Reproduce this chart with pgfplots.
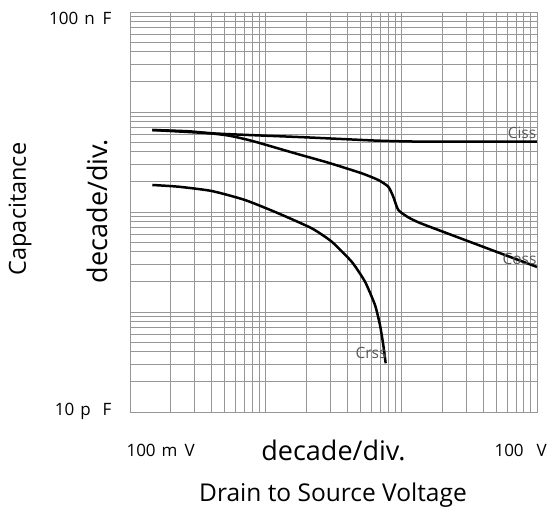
\documentclass[border=0pt]{standalone}
\usepackage{fontspec}
\setmainfont{Open Sans}
\usepackage{pgfplots}
\pgfplotsset{compat=1.18}

\definecolor{gridgray}{RGB}{150,150,150}
\definecolor{labgray}{RGB}{90,90,90}

\begin{document}
\begin{tikzpicture}
\useasboundingbox (-130pt,-104pt) rectangle (425pt,412pt);
\begin{axis}[
    at={(0pt,0pt)}, anchor=south west,
    scale only axis,
    width=407pt, height=400pt,
    xmode=log, ymode=log,
    xmin=0.1, xmax=100,
    ymin=10, ymax=100000,
    xtick={0.1,1,10,100},
    ytick={10,100,1000,10000,100000},
    xticklabels={}, yticklabels={},
    grid=both,
    major grid style={draw=gridgray, line width=0.8pt},
    minor grid style={draw=gridgray, line width=0.8pt},
    tick style={draw=none},
    axis line style={draw=gridgray, line width=0.8pt},
    clip=false,
]

% Ciss
\addplot[black, line width=2.5pt, smooth, tension=0.35] coordinates {
  (0.146,6607) (0.501,6026) (1.949,5585) (6.765,5164) (14.94,5047)
  (40,5047) (100,5047)
};

% Coss
\addplot[black, line width=2.5pt, smooth, tension=0.35] coordinates {
  (0.146,6607) (0.277,6400) (0.501,5888) (0.648,5495) (0.834,5047)
  (1.645,3864) (2.894,3112) (5.103,2438) (6.765,2089) (8.014,1791)
  (8.724,1422) (9.497,1047) (11.25,885) (13.73,776) (22.8,598)
  (38.0,461) (63.2,356) (100,282)
};

% Crss
\addplot[black, line width=2.5pt, smooth, tension=0.35] coordinates {
  (0.146,1862) (0.227,1791) (0.400,1622) (0.704,1318) (1.239,970)
  (2.185,687) (3.067,505) (4.307,318) (5.397,201) (6.394,117.5)
  (6.961,74.1) (7.362,46.8) (7.668,30.7)
};

\end{axis}

% tick labels
\node[anchor=east, font=\fontsize{17}{20}\selectfont] at (-15pt,394pt) {100\hspace{6pt}n\hspace{8pt}F};
\node[anchor=east, font=\fontsize{17}{20}\selectfont] at (-15pt,1pt) {10\hspace{6pt}p\hspace{12pt}F};
\node[anchor=west, font=\fontsize{17}{20}\selectfont] at (-7pt,-38pt) {100\hspace{6pt}m\hspace{7pt}V};
\node[anchor=west, font=\fontsize{17}{20}\selectfont] at (361pt,-38pt) {100\hspace{13pt}V};

% axis titles
\node[font=\fontsize{27}{32}\selectfont] at (203.5pt,-38pt) {decade/div.};
\node[font=\fontsize{24.5}{28}\selectfont] at (203pt,-83pt) {Drain to Source Voltage};
\node[rotate=90, font=\fontsize{23.5}{28}\selectfont] at (-110pt,203pt) {Capacitance};
\node[rotate=90, font=\fontsize{27}{32}\selectfont] at (-33pt,201pt) {decade/div.};

% curve labels
\node[text=labgray, font=\fontsize{15.5}{18}\selectfont] at (392pt,279pt) {Ciss};
\node[text=labgray, font=\fontsize{15.5}{18}\selectfont] at (389.5pt,153pt) {Coss};
\node[text=labgray, font=\fontsize{15.5}{18}\selectfont] at (241pt,59pt) {Crss};
\end{tikzpicture}
\end{document}
